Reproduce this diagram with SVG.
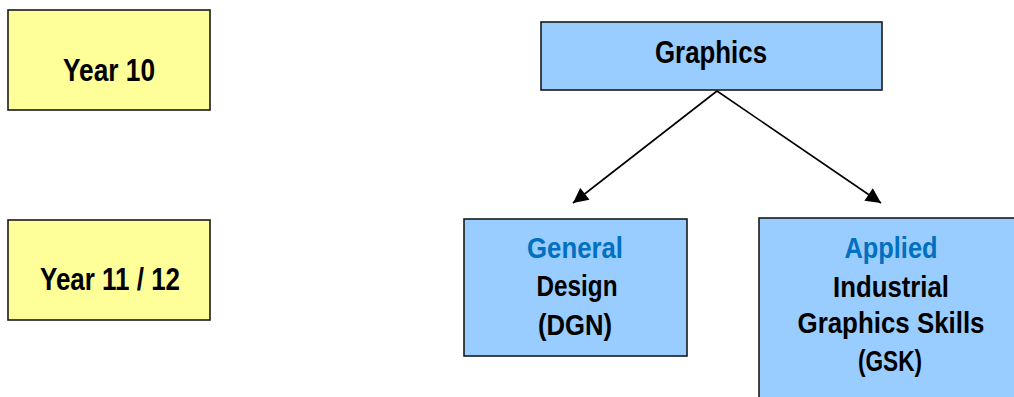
<svg xmlns="http://www.w3.org/2000/svg" width="1014" height="397" viewBox="0 0 1014 397">
<style>
.yr{fill:#FFFF99;stroke:#1a1a1a;stroke-width:1.6}
.bl{fill:#99CCFF;stroke:#1a1a1a;stroke-width:1.6}
text{font-family:"Liberation Sans",Arial,sans-serif;font-weight:bold;font-size:29px;text-anchor:middle;fill:#000}
.big{font-size:32px}
.hi{fill:#0070C0}
.c{stroke:#000;stroke-width:1.6;fill:none}
</style>
<defs>
<marker id="ah2" viewBox="0 0 10 10" refX="10" refY="5" markerWidth="17" markerHeight="15" markerUnits="userSpaceOnUse" orient="auto">
<path d="M0,0 L10,5 L0,10 z" fill="#000"/>
</marker>
</defs>
<g id="year10">
<rect class="yr" x="8" y="10" width="202" height="100"/>
<text class="big" x="109" y="81" textLength="92" lengthAdjust="spacingAndGlyphs">Year 10</text>
</g>
<g id="year1112">
<rect class="yr" x="8" y="220" width="202" height="100"/>
<text class="big" x="110" y="290" textLength="140" lengthAdjust="spacingAndGlyphs">Year 11 / 12</text>
</g>
<g id="graphics">
<rect class="bl" x="541" y="22" width="341" height="68"/>
<text class="big" x="711" y="63" textLength="112" lengthAdjust="spacingAndGlyphs">Graphics</text>
</g>
<g id="general">
<rect class="bl" x="464" y="219" width="223" height="137"/>
<text class="hi" x="575" y="258" textLength="96" lengthAdjust="spacingAndGlyphs">General</text>
<text x="577" y="296" textLength="81" lengthAdjust="spacingAndGlyphs">Design</text>
<text x="575" y="335" textLength="74" lengthAdjust="spacingAndGlyphs">(DGN)</text>
</g>
<g id="applied">
<rect class="bl" x="759" y="218" width="270" height="200"/>
<text class="hi" x="891" y="258" textLength="93" lengthAdjust="spacingAndGlyphs">Applied</text>
<text x="891" y="297" textLength="116" lengthAdjust="spacingAndGlyphs">Industrial</text>
<text x="891" y="333" textLength="187" lengthAdjust="spacingAndGlyphs">Graphics Skills</text>
<text x="890" y="371" textLength="64" lengthAdjust="spacingAndGlyphs">(GSK)</text>
</g>
<g id="connectors">
<line class="c" x1="717" y1="91" x2="573" y2="203" marker-end="url(#ah2)"/>
<line class="c" x1="717" y1="91" x2="881" y2="203" marker-end="url(#ah2)"/>
</g>
</svg>
